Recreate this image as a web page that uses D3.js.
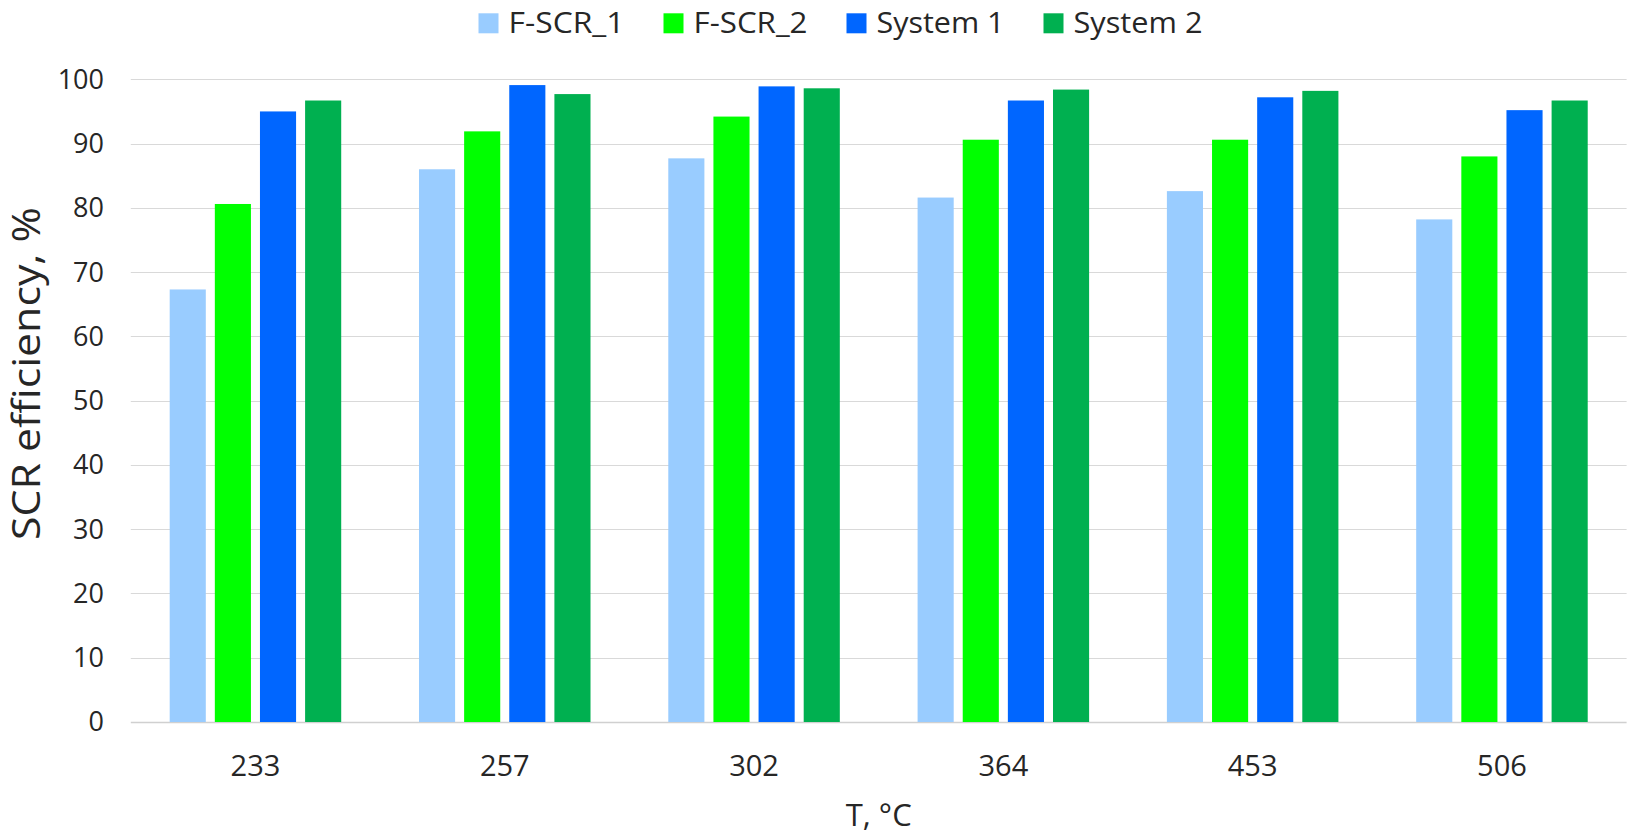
<!DOCTYPE html>
<html>
<head>
<meta charset="utf-8">
<script src="https://cdn.jsdelivr.net/npm/d3@7/dist/d3.min.js"></script>
<style>
  html, body { margin: 0; padding: 0; background: #fff; }
  svg { display: block; font-family: "Open Sans", "Noto Sans", sans-serif; }
</style>
</head>
<body>
<svg id="chart" width="1629" height="836"></svg>
<script>
// Temperatures (°C) for each group of bars
const temperatures = ["233", "257", "302", "364", "453", "506"];

// Series names and colours
const seriesNames = ["F-SCR_1", "F-SCR_2", "System 1", "System 2"];
const seriesColors = ["#99CCFF", "#00FF00", "#0066FF", "#00B050"];

// SCR efficiency, % for each series at each temperature
const fscr1 = [67.3, 86.0, 87.7, 81.6, 82.6, 78.2];
const fscr2 = [80.6, 91.9, 94.2, 90.6, 90.6, 88.0];
const system1 = [95.0, 99.1, 98.9, 96.7, 97.2, 95.2];
const system2 = [96.7, 97.7, 98.6, 98.4, 98.2, 96.7];

// Y-axis ticks
const yTicks = [0, 10, 20, 30, 40, 50, 60, 70, 80, 90, 100];

const seriesValues = [fscr1, fscr2, system1, system2];

const svg = d3.select("#chart");

const plot = { left: 130.8, right: 1626.6, top: 79.3, bottom: 722 };

const x0 = d3.scaleBand()
  .domain(temperatures)
  .range([plot.left, plot.right])
  .paddingInner(0.312)
  .paddingOuter(0.156);

const x1 = d3.scaleBand()
  .domain(seriesNames)
  .range([0, x0.bandwidth()])
  .paddingInner(0.2)
  .paddingOuter(0);

const y = d3.scaleLinear()
  .domain([0, 100])
  .range([plot.bottom, plot.top]);

// Horizontal gridlines
svg.append("g")
  .selectAll("line")
  .data(yTicks)
  .join("line")
  .attr("x1", plot.left)
  .attr("x2", plot.right)
  .attr("y1", d => Math.round(y(d)) + 0.5)
  .attr("y2", d => Math.round(y(d)) + 0.5)
  .attr("stroke", d => d === 0 ? "#d0d0d0" : "#d9d9d9")
  .attr("stroke-width", d => d === 0 ? 1.5 : 1.2);

// Y tick labels
svg.append("g")
  .selectAll("text")
  .data(yTicks)
  .join("text")
  .attr("x", 104)
  .attr("y", d => y(d))
  .attr("dy", "0.35em")
  .attr("text-anchor", "end")
  .attr("font-size", 27)
  .attr("fill", "#262626")
  .text(d => d);

// Bars
const groups = svg.append("g")
  .selectAll("g")
  .data(temperatures)
  .join("g")
  .attr("transform", d => `translate(${x0(d)},0)`);

groups.selectAll("rect")
  .data((t, i) => seriesNames.map((s, k) => ({ s, k, v: seriesValues[k][i] })))
  .join("rect")
  .attr("x", d => x1(d.s))
  .attr("width", x1.bandwidth())
  .attr("y", d => y(d.v))
  .attr("height", d => y(0) - y(d.v))
  .attr("fill", d => seriesColors[d.k]);

// X tick labels
svg.append("g")
  .selectAll("text")
  .data(temperatures)
  .join("text")
  .attr("x", d => x0(d) + x0.bandwidth() / 2)
  .attr("y", 776)
  .attr("text-anchor", "middle")
  .attr("font-size", 29)
  .attr("fill", "#262626")
  .text(d => d);

// Axis titles
svg.append("text")
  .attr("x", (plot.left + plot.right) / 2)
  .attr("y", 826)
  .attr("text-anchor", "middle")
  .attr("font-size", 31)
  .attr("fill", "#262626")
  .text("T, °C");

svg.append("text")
  .attr("transform", "translate(40,373.5) rotate(-90)")
  .attr("text-anchor", "middle")
  .attr("font-size", 38)
  .attr("textLength", 333)
  .attr("lengthAdjust", "spacingAndGlyphs")
  .attr("fill", "#262626")
  .text("SCR efficiency, %");

// Legend: swatch, then label stretched to its set width
const legendTextWidths = [116, 114, 128, 129];
const legend = svg.append("g");
const items = legend.selectAll("g")
  .data(seriesNames)
  .join("g");
items.append("rect")
  .attr("width", 20)
  .attr("height", 20)
  .attr("y", 13.3)
  .attr("fill", (d, i) => seriesColors[i]);
items.append("text")
  .attr("x", 30)
  .attr("y", 33.3)
  .attr("font-size", 29)
  .attr("textLength", (d, i) => legendTextWidths[i])
  .attr("lengthAdjust", "spacingAndGlyphs")
  .attr("fill", "#262626")
  .text(d => d);

const itemGap = 39;
let cursor = 0;
const offsets = legendTextWidths.map(w => {
  const o = cursor;
  cursor += 30 + w + itemGap;
  return o;
});
const totalW = cursor - itemGap;
const legendCenter = 840.5;
items.attr("transform", (d, i) => `translate(${legendCenter - totalW / 2 + offsets[i]},0)`);
</script>
</body>
</html>
